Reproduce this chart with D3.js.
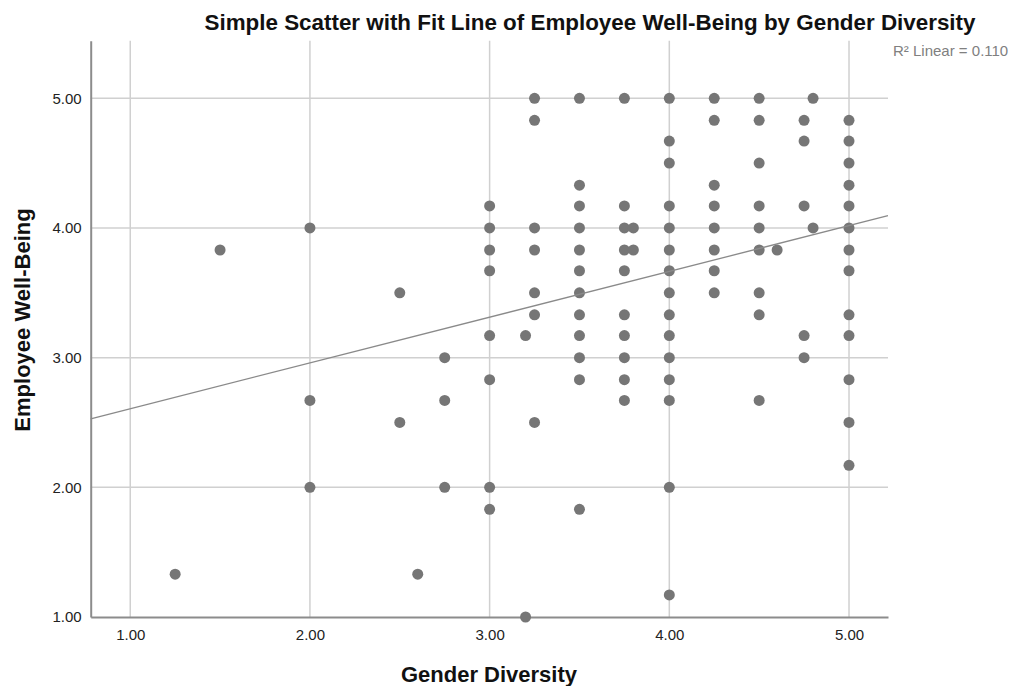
<!DOCTYPE html>
<html lang="en">
<head>
    <meta charset="UTF-8">
    <title>Simple Scatter with Fit Line</title>
    <script src="https://cdn.jsdelivr.net/npm/d3@7"></script>
    <style>
        body { margin: 0; background: #fff; }
        text { font-family: "Liberation Sans", Arial, sans-serif; }
    </style>
</head>
<body>
    <script type="text/javascript">

        // Gender Diversity levels, and the Well-Being values seen at each level
        var xLevels = [1.25, 1.5, 2.0, 2.5, 2.6, 2.75, 3.0, 3.2, 3.25, 3.5, 3.75, 3.8, 4.0, 4.25, 4.5, 4.6, 4.75, 4.8, 5.0];
        var yByLevel = [
            [1.33],
            [3.83],
            [4.00, 2.67, 2.00],
            [3.50, 2.50],
            [1.33],
            [3.00, 2.67, 2.00],
            [4.17, 4.00, 3.83, 3.67, 3.17, 2.83, 2.00, 1.83],
            [3.17, 1.00],
            [5.00, 4.83, 4.00, 3.83, 3.50, 3.33, 2.50],
            [5.00, 4.33, 4.17, 4.00, 3.83, 3.67, 3.50, 3.33, 3.17, 3.00, 2.83, 1.83],
            [5.00, 4.17, 4.00, 3.83, 3.67, 3.33, 3.17, 3.00, 2.83, 2.67],
            [4.00, 3.83],
            [5.00, 4.67, 4.50, 4.17, 4.00, 3.83, 3.67, 3.50, 3.33, 3.17, 3.00, 2.83, 2.67, 2.00, 1.17],
            [5.00, 4.83, 4.33, 4.17, 4.00, 3.83, 3.67, 3.50],
            [5.00, 4.83, 4.50, 4.17, 4.00, 3.83, 3.50, 3.33, 2.67],
            [3.83],
            [4.83, 4.67, 4.17, 3.17, 3.00],
            [5.00, 4.00],
            [4.83, 4.67, 4.50, 4.33, 4.17, 4.00, 3.83, 3.67, 3.33, 3.17, 2.83, 2.50, 2.17]
        ];

        var xTicks = [1, 2, 3, 4, 5];
        var yTicks = [1, 2, 3, 4, 5];

        // linear fit line
        var fitIntercept = 2.253;
        var fitSlope = 0.353;
        var rSquared = 0.110;

        var w = 1013;
        var h = 686;
        var plotLeft = 90.7, plotRight = 888, plotTop = 40.7, plotBottom = 617;

        var dataset = [];
        xLevels.forEach(function(xv, i) {
            yByLevel[i].forEach(function(yv) {
                dataset.push({ x: xv, y: yv });
            });
        });

        var xScale = d3.scaleLinear()
                        .domain([0.78, 5.217])
                        .range([plotLeft, plotRight]);

        var yScale = d3.scaleLinear()
                        .domain([1, 5.444])
                        .range([plotBottom, plotTop]);

        var svg = d3.select("body")
                    .append("svg")
                    .attr("width", w)
                    .attr("height", h);

        // grid lines
        svg.append("g")
            .selectAll("line")
            .data(xTicks)
            .enter()
            .append("line")
            .attr("x1", function(d) { return xScale(d); })
            .attr("x2", function(d) { return xScale(d); })
            .attr("y1", plotTop)
            .attr("y2", plotBottom)
            .attr("stroke", "#d0d0d0")
            .attr("stroke-width", 1.5);

        svg.append("g")
            .selectAll("line")
            .data(yTicks.slice(1))
            .enter()
            .append("line")
            .attr("x1", plotLeft)
            .attr("x2", plotRight)
            .attr("y1", function(d) { return yScale(d); })
            .attr("y2", function(d) { return yScale(d); })
            .attr("stroke", "#d0d0d0")
            .attr("stroke-width", 1.5);

        // axes
        var xAxis = d3.axisBottom(xScale)
                        .tickValues(xTicks)
                        .tickSize(0)
                        .tickPadding(12)
                        .tickFormat(d3.format(".2f"));

        var yAxis = d3.axisLeft(yScale)
                        .tickValues(yTicks)
                        .tickSize(0)
                        .tickPadding(9)
                        .tickFormat(d3.format(".2f"));

        var gx = svg.append("g")
            .attr("transform", "translate(0," + plotBottom + ")")
            .call(xAxis);

        var gy = svg.append("g")
            .attr("transform", "translate(" + plotLeft + ",0)")
            .call(yAxis);

        [gx, gy].forEach(function(g) {
            g.select(".domain").attr("stroke", "#8c8c8c").attr("stroke-width", 2);
            g.selectAll("text")
                .attr("font-family", "Liberation Sans, Arial, sans-serif")
                .attr("font-size", 15)
                .attr("fill", "#222");
        });

        // points
        svg.append("g")
            .selectAll("circle")
            .data(dataset)
            .enter()
            .append("circle")
            .attr("cx", function(d) { return xScale(d.x); })
            .attr("cy", function(d) { return yScale(d.y); })
            .attr("r", 5.5)
            .attr("fill", "#767676");

        // fit line
        var xd = xScale.domain();
        svg.append("line")
            .attr("x1", xScale(xd[0]))
            .attr("y1", yScale(fitIntercept + fitSlope * xd[0]))
            .attr("x2", xScale(xd[1]))
            .attr("y2", yScale(fitIntercept + fitSlope * xd[1]))
            .attr("stroke", "#8a8a8a")
            .attr("stroke-width", 1.3);

        // titles
        svg.append("text")
            .attr("x", 590)
            .attr("y", 30)
            .attr("text-anchor", "middle")
            .attr("font-size", 22.4)
            .attr("font-weight", "bold")
            .attr("fill", "#111")
            .text("Simple Scatter with Fit Line of Employee Well-Being by Gender Diversity");

        svg.append("text")
            .attr("x", 893)
            .attr("y", 56)
            .attr("font-size", 15)
            .attr("fill", "#808080")
            .text("R\u00b2 Linear = " + d3.format(".3f")(rSquared));

        svg.append("text")
            .attr("x", 489)
            .attr("y", 682)
            .attr("text-anchor", "middle")
            .attr("font-size", 22)
            .attr("font-weight", "bold")
            .attr("fill", "#111")
            .text("Gender Diversity");

        svg.append("text")
            .attr("transform", "translate(30,320) rotate(-90)")
            .attr("text-anchor", "middle")
            .attr("font-size", 22)
            .attr("font-weight", "bold")
            .attr("fill", "#111")
            .text("Employee Well-Being");

    </script>
</body>
</html>
